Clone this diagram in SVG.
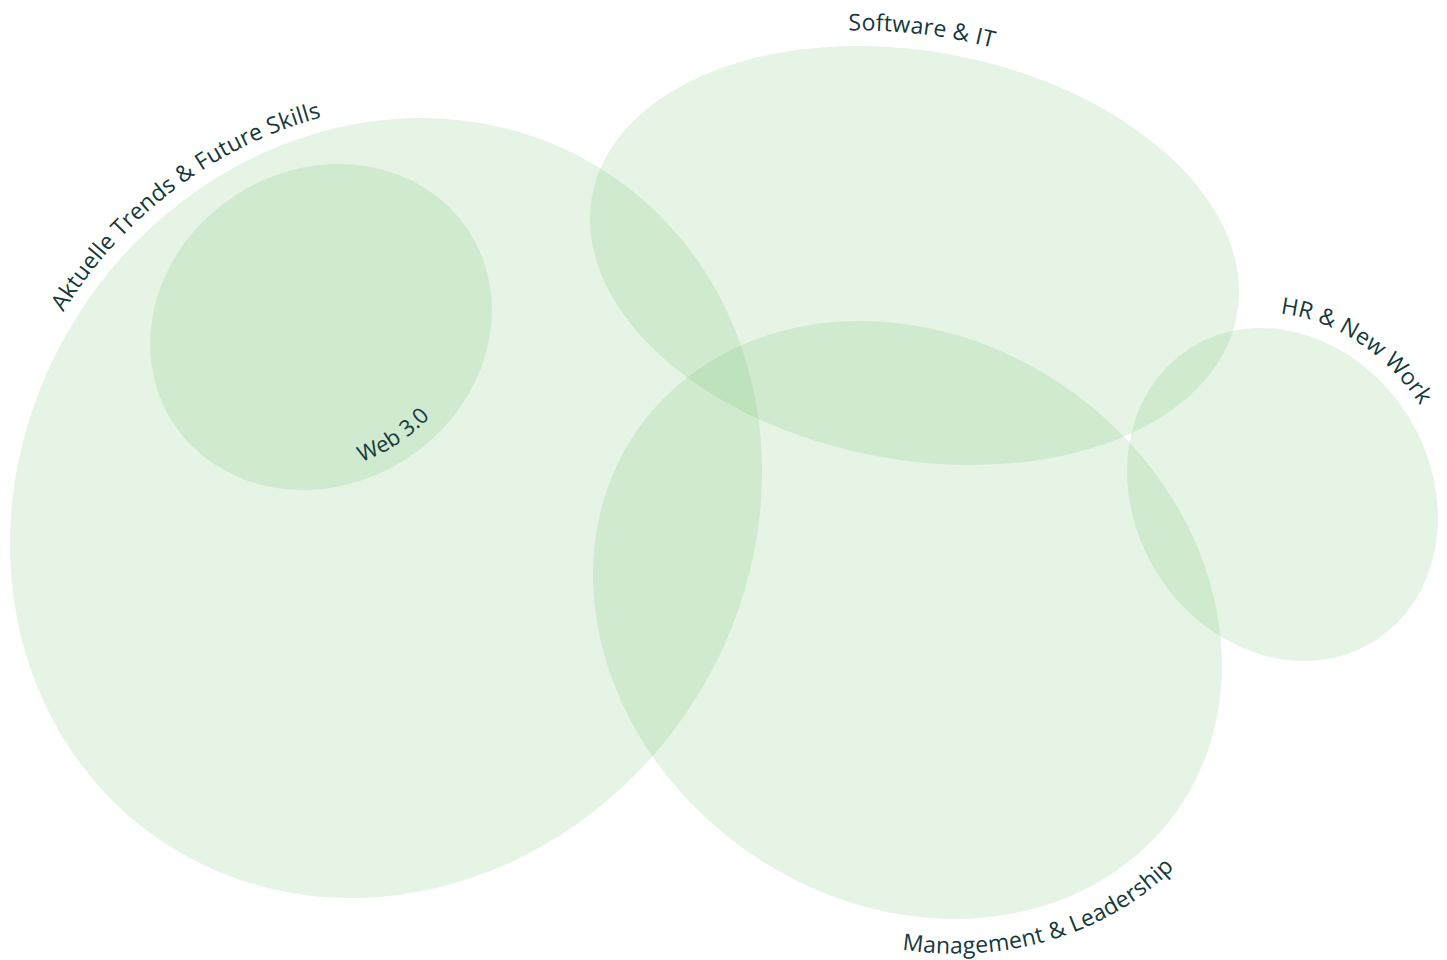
<svg xmlns="http://www.w3.org/2000/svg" width="1447" height="960" viewBox="0 0 1447 960">
<style>
.set{fill:rgb(88,182,82);fill-opacity:0.15;stroke:none}
.lbl{font-family:"Open Sans","Noto Sans","Liberation Sans",sans-serif;font-size:23px;letter-spacing:0.2px;fill:#15393a}
.small{font-size:22px;letter-spacing:0}
</style>
<defs>
<path id="p-trends" d="M12.8,425.8 A415.7,377.5 -55.7 0 1 439.5,104.7"/>
<path id="p-web" d="M320.4,471.3 A157,140 -32.7 0 0 448.3,393.4"/>
<path id="p-soft" d="M753.3,42.5 A344,220 10.5 0 1 1083.5,80.9"/>
<path id="p-hr" d="M1222.1,317.1 A189,164 58.1 0 1 1444.8,458.6"/>
<path id="p-mgmt" d="M800.2,920.5 A365,316 35.7 0 0 1233.8,780.3"/>
</defs>
<g id="connectors"></g>
<g id="node-trends">
<ellipse class="set" cx="386" cy="508" rx="401.7" ry="363.5" transform="rotate(-55.7 386 508)"/>
<text class="lbl" text-anchor="middle"><textPath href="#p-trends" startOffset="50.5%">Aktuelle Trends &amp; Future Skills</textPath></text>
</g>
<g id="node-web">
<ellipse class="set" cx="321" cy="327" rx="176.3" ry="157.2" transform="rotate(-32.7 321 327)"/>
<text class="lbl small" text-anchor="middle"><textPath href="#p-web" startOffset="54%">Web 3.0</textPath></text>
</g>
<g id="node-software">
<ellipse class="set" cx="914.5" cy="255.5" rx="327.9" ry="204.2" transform="rotate(10.5 914.5 255.5)"/>
<text class="lbl" text-anchor="middle"><textPath href="#p-soft" startOffset="50%">Software &amp; IT</textPath></text>
</g>
<g id="node-management">
<ellipse class="set" cx="907.5" cy="620" rx="330.3" ry="281.4" transform="rotate(35.7 907.5 620)"/>
<text class="lbl" text-anchor="middle"><textPath href="#p-mgmt" startOffset="50%">Management &amp; Leadership</textPath></text>
</g>
<g id="node-hr">
<ellipse class="set" cx="1282.5" cy="494.5" rx="173.1" ry="148.1" transform="rotate(58.1 1282.5 494.5)"/>
<text class="lbl" text-anchor="middle"><textPath href="#p-hr" startOffset="50%">HR &amp; New Work</textPath></text>
</g>
</svg>
